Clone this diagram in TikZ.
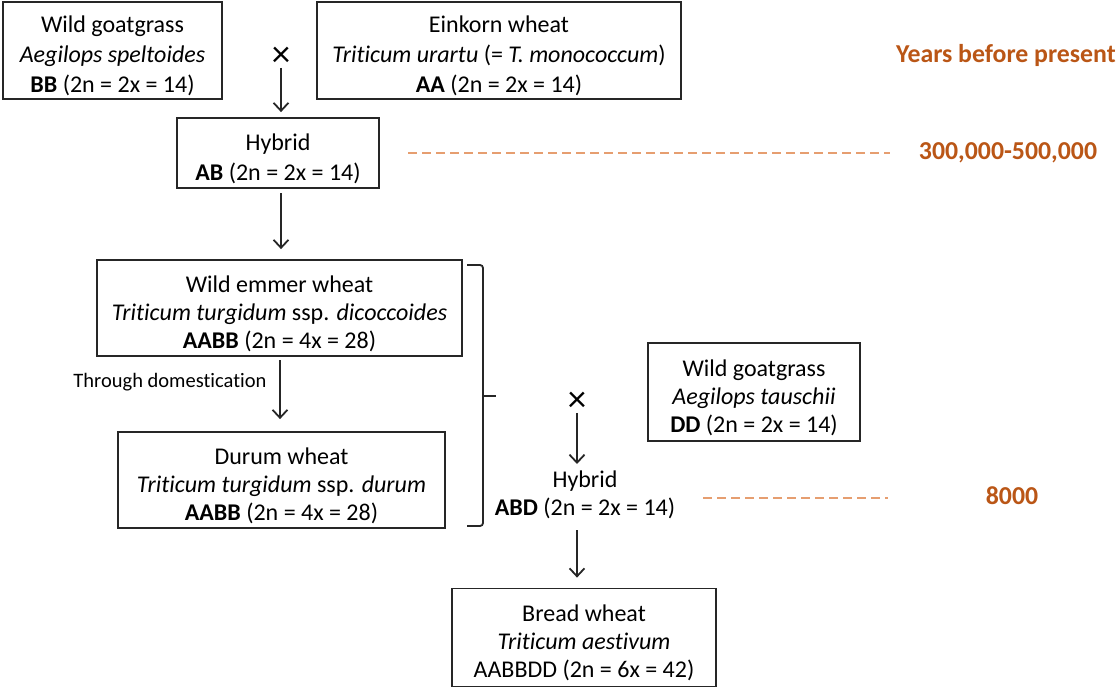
\documentclass[tikz,border=0pt]{standalone}
\usepackage{fontspec}
\setmainfont{Carlito}[Ligatures={NoCommon,NoDiscretionary,NoRare}]
\usetikzlibrary{arrows.meta}
\definecolor{yrtext}{RGB}{186,86,22}
\definecolor{yrline}{RGB}{230,158,112}
\newcommand{\topstrut}{\rule{0pt}{28pt}}
\newcommand{\bigstrut}{\rule{0pt}{27.5pt}}
\begin{document}
\begin{tikzpicture}[x=1pt,y=-1pt,
  box/.style={draw=black!85,line width=1.8pt,inner sep=0pt,align=center},
  topfont/.style={font=\fontsize{24}{30}\selectfont},
  bigfont/.style={font=\fontsize{24}{28}\selectfont},
  plain/.style={inner sep=0pt,align=center},
  arr/.style={-{Straight Barb[length=8pt,width=15pt,line width=1.8pt]},line width=1.8pt,black!85},
  years/.style={inner sep=0pt,text=yrtext,font=\fontsize{25.8}{28}\selectfont\bfseries},
  dashline/.style={yrline,line width=2pt,dash pattern=on 9pt off 5pt},
  crossmark/.style={inner sep=0pt,font=\fontsize{37}{37}\selectfont}]
\useasboundingbox (0,0) rectangle (1118,690);

\node[box,topfont,minimum width=219pt,minimum height=97pt] (goat1) at (112.5,50.5)
  {\topstrut Wild goatgrass\\\textit{Aegilops speltoides}\\\textbf{BB} (2n = 2x = 14)};
\node[box,topfont,minimum width=364pt,minimum height=97pt] (einkorn) at (499,50.5)
  {\topstrut Einkorn wheat\\\textit{Triticum urartu} (= \textit{T. monococcum})\\\textbf{AA} (2n = 2x = 14)};
\node[crossmark] (x1) at (281,57) {×};
\node[box,topfont,minimum width=202pt,minimum height=70pt] (hyb1) at (278,153)
  {\topstrut Hybrid\\\textbf{AB} (2n = 2x = 14)};
\node[box,bigfont,minimum width=365pt,minimum height=96pt] (emmer) at (279.5,308)
  {\bigstrut Wild emmer wheat\\\textit{Triticum turgidum} ssp. \textit{dicoccoides}\\\textbf{AABB} (2n = 4x = 28)};
\node[inner sep=0pt,font=\fontsize{20.5}{22}\selectfont] (dom) at (170,382) {Through domestication};
\node[box,bigfont,minimum width=327pt,minimum height=96pt] (durum) at (281.5,480)
  {\bigstrut Durum wheat\\\textit{Triticum turgidum} ssp. \textit{durum}\\\textbf{AABB} (2n = 4x = 28)};
\node[box,bigfont,minimum width=212pt,minimum height=98pt] (goat2) at (754,392)
  {\bigstrut Wild goatgrass\\\textit{Aegilops tauschii}\\\textbf{DD} (2n = 2x = 14)};
\node[crossmark] (x2) at (577,402) {×};
\node[plain,bigfont] (hyb2) at (585,495) {Hybrid\\\textbf{ABD} (2n = 2x = 14)};
\node[box,bigfont,minimum width=264pt,minimum height=98pt] (bread) at (584,637.5)
  {\bigstrut Bread wheat\\\textit{Triticum aestivum}\\AABBDD (2n = 6x = 42)};

\node[years] (ybp) at (1006,55) {Years before present};
\node[years] (y1) at (1008,153) {300,000-500,000};
\node[years] (y2) at (1012,496) {8000};

% connectors
\draw[arr,shorten <=1pt,shorten >=5pt] (x1.south) -- (x1.south |- hyb1.north);
\draw[arr,shorten <=5pt,shorten >=10pt] (281,188) coordinate (h1b) -- (h1b |- emmer.north);
\draw[arr,shorten <=4pt,shorten >=12pt] (280,356) coordinate (eb) -- (eb |- durum.north);
\draw[arr,shorten <=1pt] (x2.south) -- (577,464) coordinate (h2t);
\draw[arr,shorten <=8pt,shorten >=10pt] (577,522) coordinate (h2b) -- (h2b |- bread.north);

% bracket
\draw[line width=1.8pt,black!85,rounded corners=3pt]
  (467,265) -- (483,265) -- (483,526) -- (467,526);
\draw[line width=1.8pt,black!85] (483,396) -- (496,396);

% time lines
\draw[dashline] (408,153) coordinate (d1s) -- (890,153) coordinate (d1e);
\draw[dashline] (703,498) coordinate (d2s) -- (888,498) coordinate (d2e);
\end{tikzpicture}
\end{document}
